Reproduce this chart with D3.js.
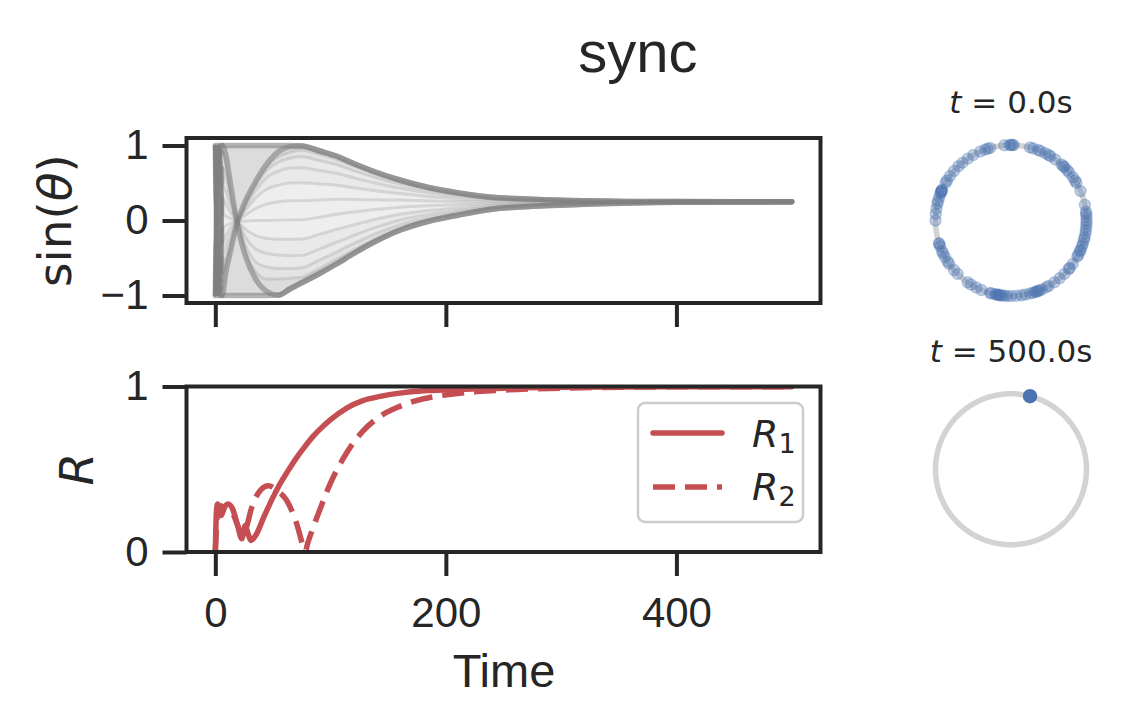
<!DOCTYPE html>
<html><head><meta charset="utf-8">
<script src="https://cdn.jsdelivr.net/npm/d3@7"></script>
<style>body{margin:0;background:#fff} svg{display:block}</style>
</head><body>
<svg id="chart" width="1127" height="727"></svg>
<script>
// ---------------- data ----------------
const timeGrid = [0, 3, 6, 9, 13, 19, 25, 35, 45, 55, 65, 75, 90, 105, 120, 140, 160, 185, 210, 240, 275, 320, 400, 500];
const envUpper = [1,1,1,1,1,1,1,1,1,1,1, 0.995,0.93,0.86,0.76,0.64,0.54,0.44,0.37,0.31,0.285,0.265,0.252,0.25];
const envLower = [-1,-1,-1,-1,-1,-1,-1,-1,-1,-0.995,-0.91, -0.83,-0.71,-0.58,-0.44,-0.27,-0.13,-0.01,0.07,0.15,0.19,0.215,0.242,0.25];
const traceA = [0.98,-0.98,-1,-0.7,-0.42,-0.03,0.22,0.52,0.76,0.92,0.985, 0.995,0.93,0.86,0.76,0.64,0.54,0.44,0.37,0.31,0.285,0.265,0.252,0.25];
const traceD = [-0.98,0.98,1,0.88,0.5,-0.05,-0.42,-0.78,-0.95,-0.995,-0.91, -0.83,-0.71,-0.58,-0.44,-0.27,-0.13,-0.01,0.07,0.15,0.19,0.215,0.242,0.25];
const fan1 = [-0.98,0.98,0.9,0.75,0.4,0.03,-0.36,-0.68,-0.78,-0.78,-0.77, -0.757,-0.644,-0.522,-0.392,-0.234,-0.103,0.008,0.085,0.16,0.196,0.218,0.243,0.25];
const fan2 = [0.98,-0.98,0.7,0.58,0.3,0.02,-0.28,-0.55,-0.62,-0.64,-0.64, -0.63,-0.53,-0.422,-0.308,-0.17,-0.056,0.04,0.106,0.17,0.202,0.222,0.244,0.25];
const fan3 = [-0.98,0.98,0.5,0.4,0.2,0.01,-0.19,-0.38,-0.44,-0.46,-0.47, -0.465,-0.382,-0.292,-0.2,-0.088,0.004,0.08,0.132,0.184,0.21,0.226,0.245,0.25];
const fan4 = [0.98,-0.98,0.3,0.22,0.11,0.0,-0.1,-0.2,-0.24,-0.25,-0.25, -0.246,-0.185,-0.119,-0.056,0.021,0.084,0.134,0.168,0.203,0.222,0.233,0.247,0.25];
const fan5 = [-0.98,0.98,0.1,0.06,0.03,0.0,-0.01,0.0,0.0,0.005,0.008, 0.01,0.044,0.082,0.112,0.149,0.178,0.197,0.21,0.226,0.235,0.24,0.248,0.25];
const fan6 = [0.98,-0.98,-0.1,-0.07,-0.04,0.0,0.06,0.16,0.22,0.25,0.262, 0.265,0.274,0.284,0.28,0.276,0.272,0.262,0.254,0.25,0.248,0.248,0.249,0.25];
const fan7 = [-0.98,0.98,-0.3,-0.2,-0.1,0.0,0.11,0.3,0.42,0.47,0.5, 0.502,0.487,0.471,0.436,0.394,0.359,0.32,0.29,0.27,0.26,0.254,0.25,0.25];
const fan8 = [0.98,-0.98,-0.5,-0.35,-0.18,-0.01,0.15,0.4,0.58,0.66,0.7, 0.703,0.668,0.63,0.568,0.494,0.433,0.37,0.325,0.288,0.272,0.259,0.251,0.25];
const fan9 = [-0.98,0.98,-0.7,-0.5,-0.28,-0.02,0.18,0.46,0.67,0.78,0.83, 0.849,0.799,0.745,0.664,0.567,0.486,0.405,0.345,0.298,0.278,0.262,0.251,0.25];
const fan10 = [0.98,-0.98,-0.9,-0.62,-0.38,-0.04,0.21,0.5,0.72,0.85,0.91, 0.94,0.881,0.817,0.724,0.613,0.52,0.428,0.36,0.305,0.282,0.264,0.252,0.25];

const rTime1 = [0,1,2,3,5,8,11,15,19,23,26,28,31,35,42,50,56,63,71,78,85,92,100,114,128,143,160,172,201,250,300,400,500];
const r1 = [0,0.25,0.29,0.24,0.22,0.27,0.29,0.26,0.17,0.08,0.16,0.12,0.07,0.1,0.21,0.33,0.41,0.49,0.575,0.64,0.7,0.75,0.8,0.87,0.915,0.94,0.96,0.97,0.98,0.99,0.995,0.998,0.999];
const rTime2 = [0,1,2,4,8,12,16,20,24,27,31.6,38.8,46,54,62,70.6,76.4,78,80,85,92,99.5,114,128,143,160,172,201,247,300,400,500];
const r2 = [0,0.15,0.25,0.28,0.27,0.26,0.22,0.15,0.1,0.15,0.27,0.37,0.4,0.37,0.31,0.17,0.03,0.0,0.05,0.15,0.28,0.41,0.6,0.73,0.82,0.88,0.91,0.95,0.977,0.99,0.998,0.999];

const xTicks = [0, 200, 400];
const yTicksTop = [-1, 0, 1];
const yTicksBottom = [0, 1];
const initialAngles = [88,89,90,91,95,106,108,110,114,120,125,130,134,139,144,148,150,156,157,157,158,159,162,165,167,171,175,180,197.6,198,200,204,206,209,213,215,221,225,235,238,242.6,247,254,255,258,259,260,261,262,263,265,267,270,274,278,281,284.7,287,289,289.8,291,292,294,298,300,305,310,315,320,321,325,331.6,333,336,337,340,342,345,347,350,352.6,355,357.7,0,2.8,5,6.7,12,23,30,32,35,39.5,42,45,46,48,54,58.5,60,63,67,69,73,75.5];
const finalAngles = [75.4];

// ---------------- layout ----------------
const svg = d3.select("#chart");
const SANS = "'Liberation Sans', Arial, Helvetica, sans-serif";
const MATH = "'DejaVu Sans', 'Liberation Sans', sans-serif";
const INK = "#262626";
const RED = "#c44e52";
const BLUE = "#4c72b0";
const left = 186.5, right = 820.5;
const topP = {top: 138, bottom: 303};
const botP = {top: 386.5, bottom: 552};

const x = d3.scaleLinear().domain([-25, 525]).range([left, right]);
const yTop = d3.scaleLinear().domain([-1.1, 1.1]).range([topP.bottom, topP.top]);
const yBot = d3.scaleLinear().domain([0, 1]).range([botP.bottom, botP.top]);

const defs = svg.append("defs");
defs.append("clipPath").attr("id", "clipTop").append("rect")
  .attr("x", left).attr("y", topP.top).attr("width", right - left).attr("height", topP.bottom - topP.top);
defs.append("clipPath").attr("id", "clipBot").append("rect")
  .attr("x", left).attr("y", botP.top).attr("width", right - left).attr("height", botP.bottom - botP.top);

// ---------------- top panel ----------------
const gTop = svg.append("g").attr("clip-path", "url(#clipTop)");
function bandArea(lo, hi) {
  return d3.area()
    .x((d, i) => x(timeGrid[i]))
    .y0((d, i) => yTop(lo[i]))
    .y1((d, i) => yTop(hi[i]))
    .curve(d3.curveMonotoneX);
}
gTop.append("path").datum(envUpper).attr("d", bandArea(envLower, envUpper)).attr("fill", "#dcdcdc");
gTop.append("path").datum(envUpper).attr("d", bandArea(fan1, fan10)).attr("fill", "#e3e3e3");
gTop.append("path").datum(envUpper).attr("d", bandArea(fan2, fan9)).attr("fill", "#e9e9e9");
gTop.append("path").datum(envUpper).attr("d", bandArea(fan4, fan7)).attr("fill", "#eeeeee");

const allTraces = [fan1, fan2, fan3, fan4, fan5, fan6, fan7, fan8, fan9, fan10, traceA, traceD];
const lineTop = d3.line().x((d, i) => x(timeGrid[i])).y(d => yTop(d)).curve(d3.curveMonotoneX);
// initial fast transient (first three samples of every trace), drawn darker
allTraces.forEach(tr => {
  gTop.append("path").datum(tr.slice(0, 3)).attr("d", lineTop)
    .attr("fill", "none").attr("stroke", "#808080").attr("stroke-opacity", 0.4)
    .attr("stroke-width", 4.5).attr("stroke-linecap", "round");
});
[fan1, fan2, fan3, fan4, fan5, fan6, fan7, fan8, fan9, fan10].forEach(tr => {
  gTop.append("path").datum(tr).attr("d", lineTop)
    .attr("fill", "none").attr("stroke", "#808080").attr("stroke-opacity", 0.22)
    .attr("stroke-width", 3).attr("stroke-linecap", "round");
});
[envUpper, envLower, traceA, traceD].forEach(tr => {
  gTop.append("path").datum(tr).attr("d", lineTop)
    .attr("fill", "none").attr("stroke", "#808080").attr("stroke-opacity", 0.6)
    .attr("stroke-width", 5.5).attr("stroke-linecap", "round");
});

// axes top
function styleAxis(g) {
  g.select(".domain").remove();
  g.selectAll(".tick line").attr("stroke", INK).attr("stroke-width", 4);
  g.selectAll(".tick text").attr("fill", INK).attr("font-family", SANS).attr("font-size", 42);
}
svg.append("g").attr("transform", `translate(0,${topP.bottom})`)
  .call(d3.axisBottom(x).tickValues(xTicks).tickSize(24).tickFormat(""))
  .call(styleAxis);
svg.append("g").attr("transform", `translate(${left},0)`)
  .call(d3.axisLeft(yTop).tickValues(yTicksTop).tickSize(24).tickPadding(14)
    .tickFormat(d => d < 0 ? "\u2212" + Math.abs(d) : String(d)))
  .call(styleAxis);
svg.append("rect").attr("x", left).attr("y", topP.top).attr("width", right - left)
  .attr("height", topP.bottom - topP.top).attr("fill", "none").attr("stroke", INK).attr("stroke-width", 4);

// ---------------- bottom panel ----------------
const gBot = svg.append("g").attr("clip-path", "url(#clipBot)");
const lineR1 = d3.line().x((d, i) => x(rTime1[i])).y(d => yBot(d)).curve(d3.curveMonotoneX);
const lineR2 = d3.line().x((d, i) => x(rTime2[i])).y(d => yBot(d)).curve(d3.curveMonotoneX);
gBot.append("path").datum(r2).attr("d", lineR2).attr("fill", "none").attr("stroke", RED)
  .attr("stroke-width", 5.5).attr("stroke-dasharray", "22,10");
gBot.append("path").datum(r1).attr("d", lineR1).attr("fill", "none").attr("stroke", RED)
  .attr("stroke-width", 5.5).attr("stroke-linecap", "round").attr("stroke-linejoin", "round");

svg.append("g").attr("transform", `translate(0,${botP.bottom})`)
  .call(d3.axisBottom(x).tickValues(xTicks).tickSize(24).tickPadding(21).tickFormat(d3.format("d")))
  .call(styleAxis);
svg.append("g").attr("transform", `translate(${left},0)`)
  .call(d3.axisLeft(yBot).tickValues(yTicksBottom).tickSize(24).tickPadding(14).tickFormat(d3.format("d")))
  .call(styleAxis);
svg.append("rect").attr("x", left).attr("y", botP.top).attr("width", right - left)
  .attr("height", botP.bottom - botP.top).attr("fill", "none").attr("stroke", INK).attr("stroke-width", 4);

// legend
const lg = svg.append("g");
lg.append("rect").attr("x", 638).attr("y", 403).attr("width", 165).attr("height", 119).attr("rx", 7)
  .attr("fill", "#fff").attr("fill-opacity", 0.8).attr("stroke", "#cccccc").attr("stroke-width", 2.5);
lg.append("line").attr("x1", 653).attr("x2", 722).attr("y1", 433).attr("y2", 433)
  .attr("stroke", RED).attr("stroke-width", 5.5).attr("stroke-linecap", "round");
lg.append("line").attr("x1", 653).attr("x2", 722).attr("y1", 487).attr("y2", 487)
  .attr("stroke", RED).attr("stroke-width", 5.5).attr("stroke-dasharray", "22,10");
[["1", 447], ["2", 500]].forEach(([sub, yb]) => {
  const t = lg.append("text").attr("x", 752).attr("y", yb).attr("font-family", MATH).attr("fill", INK);
  t.append("tspan").attr("font-style", "italic").attr("font-size", 38).text("R");
  t.append("tspan").attr("font-size", 27).attr("dy", 6).text(sub);
});

// ---------------- labels ----------------
svg.append("text").attr("x", 638).attr("y", 72).attr("text-anchor", "middle")
  .attr("font-family", SANS).attr("font-size", 58).attr("fill", INK).text("sync");
svg.append("text").attr("x", 504).attr("y", 687).attr("text-anchor", "middle")
  .attr("font-family", SANS).attr("font-size", 47).attr("fill", INK).text("Time");
const sl = svg.append("text").attr("transform", `translate(71,${(topP.top + topP.bottom) / 2}) rotate(-90)`)
  .attr("text-anchor", "middle").attr("font-family", MATH).attr("font-size", 47).attr("fill", INK);
sl.append("tspan").text("sin(");
sl.append("tspan").attr("font-style", "italic").text("θ");
sl.append("tspan").text(")");
svg.append("text").attr("transform", `translate(93,${(botP.top + botP.bottom) / 2}) rotate(-90)`)
  .attr("text-anchor", "middle").attr("font-family", MATH).attr("font-style", "italic")
  .attr("font-size", 47).attr("fill", INK).text("R");

// ---------------- circle panels ----------------
function circlePanel(cy, angles, title, titleY, faded) {
  const cx = 1011, r = 75.5;
  const xs = d3.scaleLinear().domain([-1, 1]).range([cx - r, cx + r]);
  const ys = d3.scaleLinear().domain([-1, 1]).range([cy + r, cy - r]);
  const g = svg.append("g");
  const ring = d3.range(0, 361, 3);
  g.append("path").datum(ring)
    .attr("d", d3.line().x(a => xs(Math.cos(a * Math.PI / 180))).y(a => ys(Math.sin(a * Math.PI / 180))))
    .attr("fill", "none").attr("stroke", "#d3d3d3").attr("stroke-width", 5.5);
  g.selectAll("circle.pt").data(angles).enter().append("circle")
    .attr("cx", a => xs(Math.cos(a * Math.PI / 180)))
    .attr("cy", a => ys(Math.sin(a * Math.PI / 180)))
    .attr("r", faded ? 5.5 : 6.5)
    .attr("fill", BLUE).attr("fill-opacity", faded ? 0.32 : 1)
    .attr("stroke", BLUE).attr("stroke-opacity", faded ? 0.32 : 1).attr("stroke-width", 1.5);
  const t = g.append("text").attr("x", cx).attr("y", titleY).attr("text-anchor", "middle")
    .attr("font-family", MATH).attr("font-size", 31).attr("fill", INK);
  t.append("tspan").attr("font-style", "italic").text("t");
  t.append("tspan").text(" = " + title);
}
circlePanel((topP.top + topP.bottom) / 2, initialAngles, "0.0s", 113, true);
circlePanel((botP.top + botP.bottom) / 2, finalAngles, "500.0s", 362, false);
</script>
</body></html>
